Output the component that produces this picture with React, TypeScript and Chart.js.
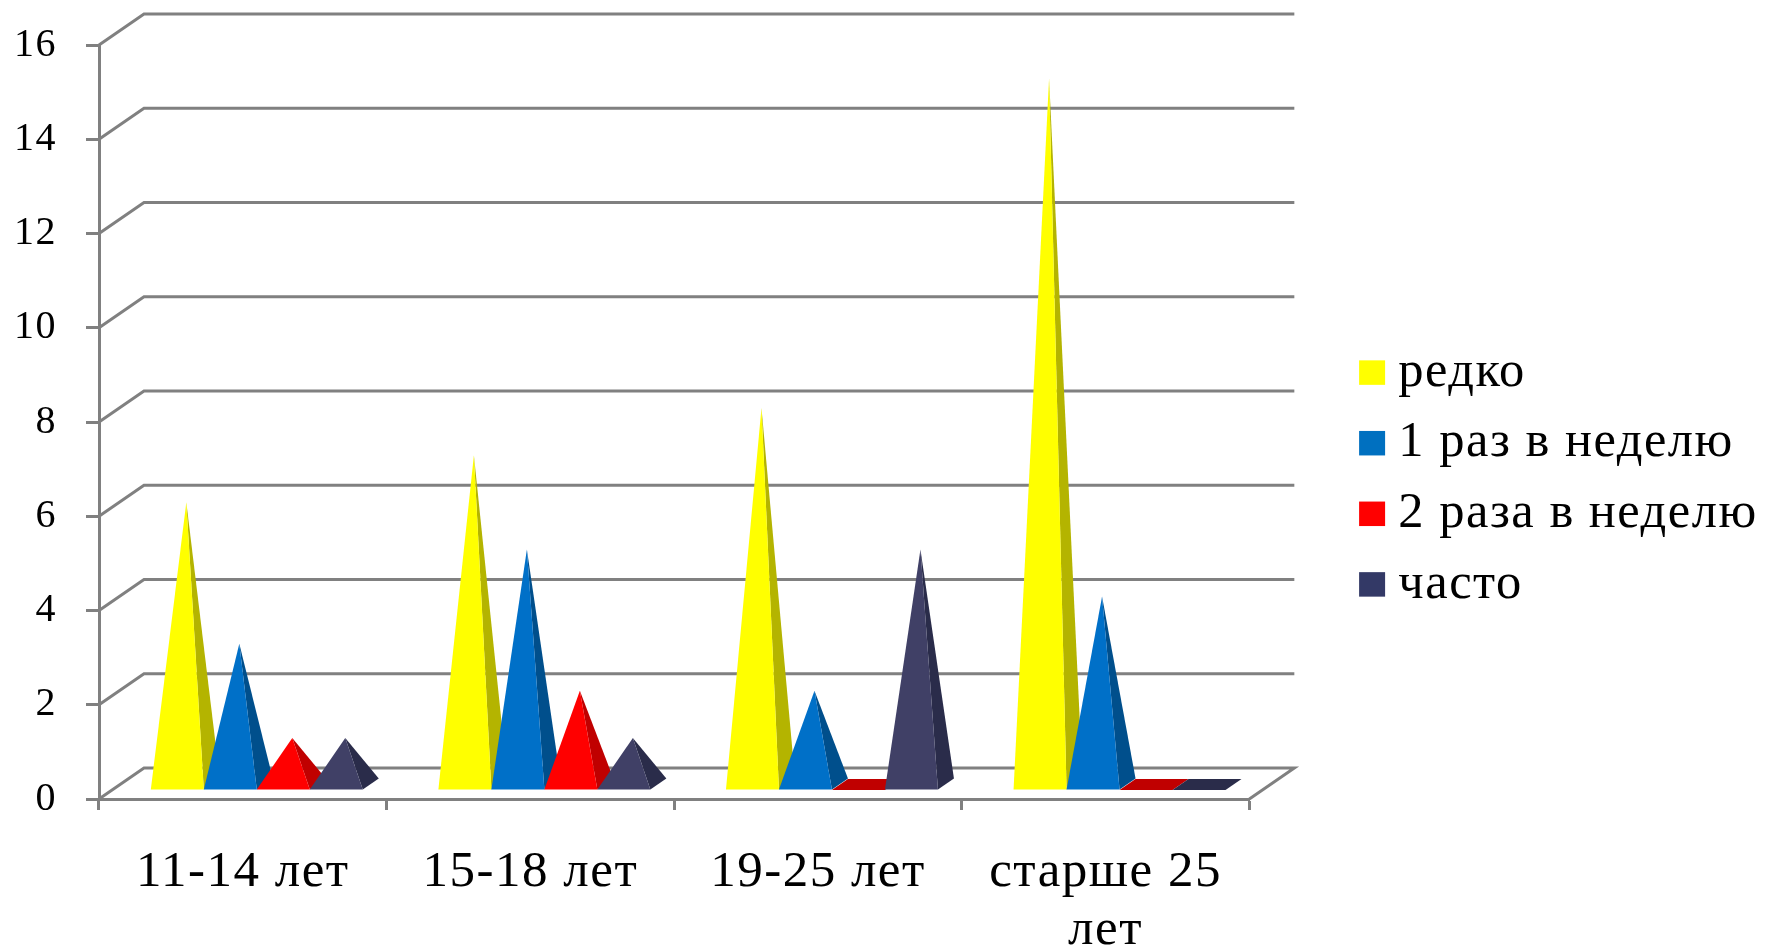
import React, { useEffect, useRef } from "react";
import { Chart, registerables } from "chart.js";

Chart.register(...registerables);

const categories: (string | string[])[] = ["11-14 лет", "15-18 лет", "19-25 лет", ["старше 25", "лет"]];
const seriesNames = ["редко", "1 раз в неделю", "2 раза в неделю", "часто"];
const rarely = [6, 7, 8, 15];
const oncePerWeek = [3, 5, 2, 4];
const twicePerWeek = [1, 2, 0, 0];
const often = [1, 1, 5, 0];
const seriesValues = [rarely, oncePerWeek, twicePerWeek, often];
const frontColors = ["#FFFF00", "#0070C8", "#FF0000", "#404066"];
const sideColors = ["#B4B400", "#004F8C", "#C00000", "#2A2C4A"];
const legendColors = ["#FFFF00", "#0070C0", "#FF0000", "#333966"];

const GREY = "#808080";
const FONT = '"Liberation Serif"';
const WALL_DX = 45;
const WALL_DY = 31;
const GROUP_SHIFT = 14;
const BASE_LIFT = 9;
const DEPTH_DX = 16;
const DEPTH_DY = 11;
const APEX_LIFT = 14;
const APEX_SHIFT = 1;

const poly = (ctx: CanvasRenderingContext2D, pts: number[][], color: string) => {
  ctx.beginPath();
  pts.forEach(([x, y], i) => (i ? ctx.lineTo(x, y) : ctx.moveTo(x, y)));
  ctx.closePath();
  ctx.fillStyle = color;
  ctx.fill();
};

const scene = {
  id: "pyramidScene",
  beforeDraw(chart: any) {
    chart.ctx.letterSpacing = "1.5px";
  },
  afterLayout(chart: any) {
    const legend = chart.legend;
    legend.left = 1351;
    legend.right = 1767;
    legend.width = 1767 - 1351;
    legend.top = 9;
  },
  beforeDatasetsDraw(chart: any) {
    const { ctx, scales, chartArea } = chart;
    const y = scales.y;
    ctx.save();
    ctx.strokeStyle = GREY;
    ctx.lineWidth = 3;
    y.ticks.forEach((t: any) => {
      const py = y.getPixelForValue(t.value);
      ctx.beginPath();
      ctx.moveTo(chartArea.left, py);
      ctx.lineTo(chartArea.left + WALL_DX, py - WALL_DY);
      ctx.lineTo(chartArea.right + WALL_DX, py - WALL_DY);
      if (t.value === 0) ctx.lineTo(chartArea.right, py);
      ctx.stroke();
    });
    seriesValues.forEach((_, d) => {
      chart.getDatasetMeta(d).data.forEach((bar: any) => {
        const w = bar.width;
        const left = bar.x - w / 2 + GROUP_SHIFT;
        const right = left + w;
        const by = bar.base - BASE_LIFT;
        const fl = [left, by];
        const fr = [right, by];
        const br = [right + DEPTH_DX, by - DEPTH_DY];
        const bl = [left + DEPTH_DX, by - DEPTH_DY];
        if (Math.abs(bar.base - bar.y) < 0.5) {
          poly(ctx, [fl, fr, br, bl], sideColors[d]);
          return;
        }
        const apex = [(left + right + DEPTH_DX) / 2 + APEX_SHIFT, bar.y - APEX_LIFT];
        poly(ctx, [fr, br, apex], sideColors[d]);
        poly(ctx, [fl, fr, apex], frontColors[d]);
      });
    });
    ctx.restore();
  },
};

export default function App() {
  const ref = useRef<HTMLCanvasElement>(null);
  useEffect(() => {
    const chart = new Chart(ref.current!, {
      type: "bar",
      data: {
        labels: categories as any,
        datasets: seriesNames.map((label, i) => ({
          label,
          data: seriesValues[i],
          backgroundColor: "transparent",
          borderWidth: 0,
          categoryPercentage: 0.737,
          barPercentage: 1,
        })),
      },
      plugins: [scene],
      options: {
        animation: false,
        responsive: false,
        layout: { padding: { top: 45, left: 0, right: 123.5, bottom: 0 } },
        plugins: {
          tooltip: { enabled: false },
          legend: {
            position: "right",
            labels: {
              color: "#000",
              font: { family: FONT, size: 50.5 },
              boxWidth: 2,
              boxHeight: 0.5,
              padding: 20.1,
              generateLabels: () =>
                seriesNames.map((text, i) => ({
                  text,
                  fillStyle: legendColors[i],
                  strokeStyle: legendColors[i],
                  lineWidth: 24,
                  datasetIndex: i,
                  hidden: false,
                })),
            },
          },
        },
        scales: {
          x: {
            afterFit: (s: any) => {
              s.height = 149;
            },
            grid: { drawOnChartArea: false, tickLength: 11, tickColor: GREY, tickWidth: 3 },
            border: { color: GREY, width: 3 },
            ticks: {
              color: "#000",
              autoSkip: false,
              maxRotation: 0,
              minRotation: 0,
              padding: 34,
              font: { family: FONT, size: 51, lineHeight: 1.13 },
            },
          },
          y: {
            min: 0,
            max: 16,
            afterFit: (s: any) => {
              s.width = 99;
              s.paddingTop = 0;
              s.paddingBottom = 0;
            },
            grid: { drawOnChartArea: false, tickLength: 13, tickColor: GREY, tickWidth: 3 },
            border: { color: GREY, width: 3 },
            ticks: {
              color: "#000",
              stepSize: 2,
              padding: 29,
              font: { family: FONT, size: 40 },
            },
          },
        },
      } as any,
    });
    return () => chart.destroy();
  }, []);
  return (
    <canvas
      ref={ref}
      width={1767}
      height={948}
      style={{ position: "fixed", left: 0, top: 0, display: "block", background: "#fff" }}
    />
  );
}
